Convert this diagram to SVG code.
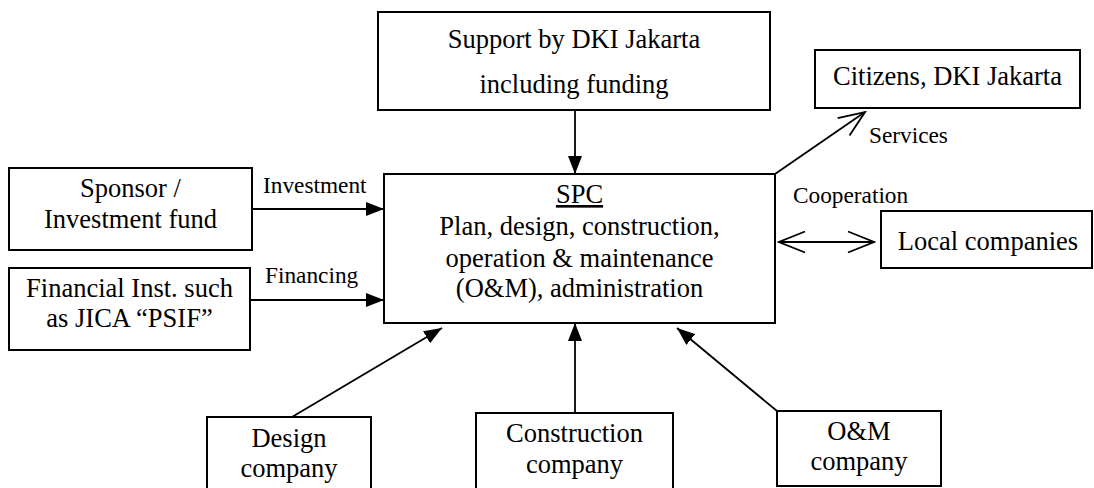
<svg xmlns="http://www.w3.org/2000/svg" width="1094" height="488" viewBox="0 0 1094 488">
  <style>
    .box { fill: #ffffff; stroke: #000000; stroke-width: 2; }
    .t { font-family: 'Liberation Serif', Tinos, 'DejaVu Serif', serif; font-size: 26.5px; fill: #000000; text-anchor: middle; }
    .lbl { font-family: 'Liberation Serif', Tinos, 'DejaVu Serif', serif; font-size: 23.3px; fill: #000000; }
    .link { fill: none; stroke: #000000; stroke-width: 1.8; }
  </style>
  <defs>
    <marker id="solid" viewBox="0 0 18 14" refX="18" refY="7" markerWidth="18" markerHeight="14" markerUnits="userSpaceOnUse" orient="auto">
      <path d="M0,0 L18,7 L0,14 Z" fill="#000000"/>
    </marker>
    <marker id="open" viewBox="-2 -2 30 25" refX="26" refY="10.5" markerWidth="30" markerHeight="25" markerUnits="userSpaceOnUse" orient="auto-start-reverse">
      <path d="M0,0 L26,10.5 L0,21" fill="none" stroke="#000000" stroke-width="1.8"/>
    </marker>
  </defs>

  <rect width="1094" height="488" fill="#ffffff"/>

  <!-- connectors -->
  <g id="connectors">
    <line class="link" x1="575" y1="110" x2="575" y2="174" marker-end="url(#solid)"/>
    <line class="link" x1="252" y1="209" x2="384" y2="209" marker-end="url(#solid)"/>
    <line class="link" x1="250" y1="300" x2="384" y2="300" marker-end="url(#solid)"/>
    <line class="link" x1="292" y1="417" x2="442" y2="328" marker-end="url(#solid)"/>
    <line class="link" x1="575" y1="413" x2="575" y2="323" marker-end="url(#solid)"/>
    <line class="link" x1="777" y1="411" x2="677" y2="328" marker-end="url(#solid)"/>
    <line class="link" x1="775" y1="174" x2="865" y2="112" marker-end="url(#open)"/>
    <line class="link" x1="779" y1="242" x2="874" y2="242" marker-start="url(#open)" marker-end="url(#open)"/>
    <text class="lbl" x="263" y="193">Investment</text>
    <text class="lbl" x="265" y="283">Financing</text>
    <text class="lbl" x="869" y="143">Services</text>
    <text class="lbl" x="793" y="203">Cooperation</text>
  </g>

  <g id="support">
    <rect class="box" x="378" y="12" width="392" height="98"/>
    <text class="t" x="574" y="48">Support by DKI Jakarta</text>
    <text class="t" x="574" y="93">including funding</text>
  </g>

  <g id="citizens">
    <rect class="box" x="815" y="50" width="265" height="58"/>
    <text class="t" x="947.5" y="85">Citizens, DKI Jakarta</text>
  </g>

  <g id="sponsor">
    <rect class="box" x="9" y="168" width="243" height="82"/>
    <text class="t" x="130.5" y="197">Sponsor /</text>
    <text class="t" x="130.5" y="228">Investment fund</text>
  </g>

  <g id="financial">
    <rect class="box" x="9" y="268" width="241" height="82"/>
    <text class="t" x="129.5" y="297">Financial Inst. such</text>
    <text class="t" x="129.5" y="327">as JICA “PSIF”</text>
  </g>

  <g id="spc">
    <rect class="box" x="384" y="174" width="391" height="149"/>
    <text class="t" x="579.5" y="203" text-decoration="underline">SPC</text>
    <text class="t" x="579.5" y="235">Plan, design, construction,</text>
    <text class="t" x="579.5" y="267">operation &amp; maintenance</text>
    <text class="t" x="579.5" y="297">(O&amp;M), administration</text>
  </g>

  <g id="local">
    <rect class="box" x="881" y="211" width="211" height="57"/>
    <text class="t" x="988" y="250">Local companies</text>
  </g>

  <g id="design">
    <rect class="box" x="207" y="417" width="164" height="80"/>
    <text class="t" x="289" y="447">Design</text>
    <text class="t" x="289" y="477">company</text>
  </g>

  <g id="construction">
    <rect class="box" x="476" y="413" width="197" height="85"/>
    <text class="t" x="574.5" y="442">Construction</text>
    <text class="t" x="574.5" y="473">company</text>
  </g>

  <g id="om">
    <rect class="box" x="777" y="411" width="164" height="75"/>
    <text class="t" x="859" y="440">O&amp;M</text>
    <text class="t" x="859" y="470">company</text>
  </g>
</svg>
